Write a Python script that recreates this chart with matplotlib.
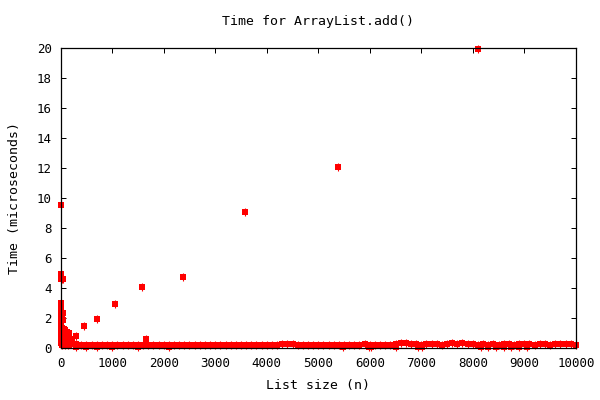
import numpy as np
import matplotlib
matplotlib.use('Agg')
import matplotlib.pyplot as plt

plt.rcParams['font.family'] = ['DejaVu Sans Mono']

# resize spikes (n, microseconds)
spike_n = [295, 457, 709, 1058, 1583, 2379, 3583, 5388, 8100]
spike_t = [0.82, 1.49, 1.95, 2.95, 4.07, 4.73, 9.07, 12.07, 19.95]

# warm-up cluster near n = 0
head_n = [0, 0, 0, 0, 0, 0, 0, 0, 0, 0, 0,
          25, 25, 40, 45, 50,
          20, 40, 60, 80, 100, 120, 140, 160, 180, 200, 220, 240,
          20, 40, 60, 80, 100, 120, 140, 160, 30, 90, 150, 1654]
head_t = [9.55, 4.95, 4.6, 3.0, 2.6, 2.29, 1.9, 1.5, 1.1, 0.7, 0.35,
          4.6, 2.3, 4.6, 1.89, 2.33,
          1.35, 1.3, 1.3, 1.25, 1.1, 1.1, 1.0, 1.0, 0.65, 0.55, 0.4, 0.3,
          0.9, 0.6, 0.8, 0.5, 0.6, 0.4, 0.5, 0.3, 0.2, 0.2, 0.2, 0.6]

# steady band, n = 200 .. 10000 every 100
band_n = np.arange(200, 10001, 100)
band_t = [0.30, 0.26, 0.22, 0.21, 0.20, 0.22, 0.20, 0.21, 0.20, 0.20,
          0.21, 0.20, 0.20, 0.21, 0.24, 0.20, 0.21, 0.20, 0.20, 0.21,
          0.20, 0.22, 0.20, 0.21, 0.20, 0.20, 0.21, 0.20, 0.20, 0.21,
          0.20, 0.21, 0.20, 0.22, 0.21, 0.20, 0.21, 0.22, 0.21, 0.20,
          0.22, 0.30, 0.26, 0.30, 0.24, 0.22, 0.23, 0.22, 0.24, 0.23,
          0.22, 0.24, 0.23, 0.22, 0.24, 0.22, 0.23, 0.27, 0.23, 0.24,
          0.23, 0.24, 0.25, 0.26, 0.33, 0.35, 0.30, 0.26, 0.25, 0.26,
          0.27, 0.26, 0.25, 0.26, 0.33, 0.26, 0.37, 0.30, 0.26, 0.25,
          0.26, 0.25, 0.27, 0.25, 0.26, 0.28, 0.25, 0.27, 0.26, 0.26,
          0.25, 0.26, 0.27, 0.25, 0.26, 0.27, 0.29, 0.26, 0.24]

# fast calls that dip just under the band
low_n = [300, 500, 700, 1000, 1500, 2100, 5480, 5990, 6030, 6500,
         6940, 7020, 8150, 8300, 8450, 8600, 8750, 8900, 9050]
low_t = [0.06] * len(low_n)

fig = plt.figure(figsize=(6, 4), dpi=100)
ax = fig.add_axes([0.1012, 0.12925, 0.8585, 0.75])

red = '#ff0000'
for xs, ys in [(band_n, band_t), (low_n, low_t), (head_n, head_t), (spike_n, spike_t)]:
    ax.plot(xs, ys, ls='none', marker='s', ms=4.4, mfc=red, mec=red, mew=0, clip_on=False)
    ax.plot(xs, ys, ls='none', marker='|', ms=6.2, mec=red, mew=0.8, clip_on=False)

ax.set_xlim(0, 10000)
ax.set_ylim(0, 20)
ax.set_xticks(range(0, 10001, 1000))
ax.set_yticks(range(0, 21, 2))
ax.tick_params(direction='in', length=3.3, width=0.72, top=True, right=True,
               labelsize=9, pad=6.5, colors='black')
for s in ax.spines.values():
    s.set_linewidth(0.9)

fig.text(0.5305, 0.945, 'Time for ArrayList.add()', ha='center', va='center', fontsize=9.5)
fig.text(0.5305, 0.036, 'List size (n)', ha='center', va='center', fontsize=9.5)
fig.text(0.024, 0.504, 'Time (microseconds)', ha='center', va='center', rotation=90, fontsize=9.5)

fig.savefig('out.png', dpi=100)
